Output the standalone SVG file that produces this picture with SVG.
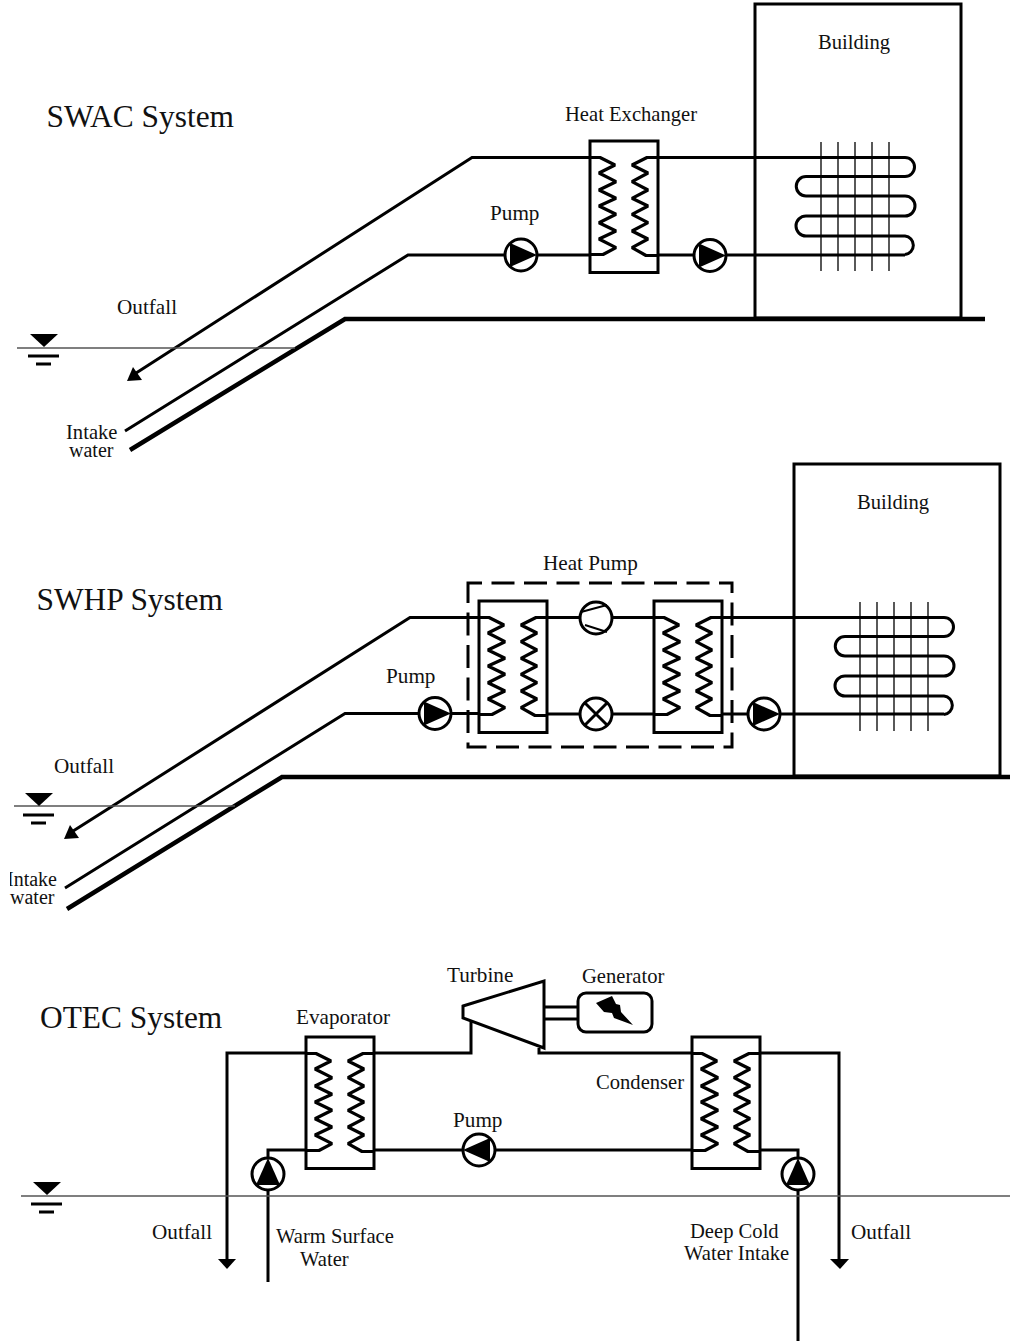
<svg xmlns="http://www.w3.org/2000/svg" width="1010" height="1341" viewBox="0 0 1010 1341">
<style>
text{font-family:"Liberation Serif","Times New Roman",serif;font-size:20.6px;fill:#111}
.t{font-size:31.4px}
.s{font-size:20px}
.b{font-size:21.2px}
.p{fill:none;stroke:#000;stroke-width:3;stroke-linejoin:miter}
.z{fill:none;stroke:#000;stroke-width:3.2;stroke-linejoin:bevel}
.g{fill:none;stroke:#000;stroke-width:4.5}
.w{fill:none;stroke:#555;stroke-width:1.3}
.thin{fill:none;stroke:#000;stroke-width:1.3}
.n{fill:#fff;stroke:#000;stroke-width:3}
.d{fill:#000}
</style>
<defs>
<g id="hx">
<rect class="p" width="68" height="131.5"/>
<path class="z" d="M0 16.5H10L25 24L9 32L26 40.7L9 49L26 57.3L9 65L26 73.3L9 81.7L26 90L9 98L26 106.7L13 113.5H0"/>
<path class="z" d="M68 16.5H57L42 24L58 32L42 40.7L58 49L42 57.3L58 65L42 73.3L58 81.7L42 90L58 98L42 106.7L56 114.5H68"/>
</g>
<g id="pump">
<circle class="n" r="16"/>
<polygon class="d" points="-11,-12 16,0 -11,12"/>
</g>
<g id="coil">
<path class="p" d="M905 157.5A9.5 9.5 0 0 1 905 176.5H806A9.5 9.5 0 0 0 806 196H905A10 10 0 0 1 905 216H806A10 10 0 0 0 806 236H905A9.3 9.3 0 0 1 905 254.5"/>
<path class="thin" d="M821 142V271M838 142V271M855 142V271M872 142V271M889 142V271"/>
</g>
<g id="level">
<polygon class="d" points="30,334 58,334 44,347"/>
<path class="p" d="M28 356H59M36 364H51"/>
</g>
<clipPath id="cut"><rect x="10" y="860" width="60" height="30"/></clipPath>
</defs>

<g id="connectors">
<path class="p" d="M133 375L472 157.5H590M658 157.5H905"/>
<polygon class="d" points="127,381 142,380 133,367"/>
<path class="p" d="M125 431L408 255H590M658 255H905"/>
<path class="g" d="M985 319H345L130 450"/>
<path class="w" d="M17 348H295"/>

<path class="p" d="M70 833L410 617.5H479M547 617.5H654M722 617.5H944"/>
<polygon class="d" points="64,839 79,838 70,825"/>
<path class="p" d="M65 888L345 713.5H479M547 714H654M722 714H944"/>
<path class="g" d="M1010 777H282L67 909"/>
<path class="w" d="M14 806H235"/>
<rect x="468" y="583" width="264" height="164" fill="none" stroke="#000" stroke-width="3" stroke-dasharray="23 9.5" stroke-dashoffset="9"/>

<path class="p" d="M227 1262V1053H306M374 1053H471V1022"/>
<path class="p" d="M539 1048V1053H692M760 1053H839V1262"/>
<polygon class="d" points="218,1259 236,1259 227,1269"/>
<polygon class="d" points="830,1259 849,1259 840,1269"/>
<path class="p" d="M268 1282V1150H306M374 1150H692M760 1150H798V1341"/>
<path class="w" d="M21 1196H1010"/>
<path class="p" d="M544 1007H578M544 1019H578"/>
</g>

<g id="swac-building"><rect class="p" x="755" y="4" width="206" height="314"/><text x="818" y="49">Building</text><use href="#coil"/></g>
<g id="swac-hx"><use href="#hx" x="590" y="141"/><text x="565" y="121">Heat Exchanger</text></g>
<g id="swac-pump1"><use href="#pump" x="521" y="255"/><text class="b" x="490" y="220">Pump</text></g>
<g id="swac-pump2"><use href="#pump" x="710" y="255.5"/></g>
<g id="swac-level"><use href="#level"/></g>
<text class="t" x="46.5" y="127">SWAC System</text>
<text class="b" x="117" y="314">Outfall</text>
<text x="66" y="439">Intake</text>
<text x="69" y="457" class="s">water</text>

<g id="swhp-building"><rect class="p" x="794" y="464" width="206" height="312"/><text x="857" y="509">Building</text><use href="#coil" x="39" y="460"/></g>
<g id="swhp-hx1"><use href="#hx" x="479" y="601"/></g>
<g id="swhp-hx2"><use href="#hx" x="654" y="601"/></g>
<g id="swhp-compressor"><circle class="n" cx="596" cy="618" r="16"/><path class="p" style="stroke-width:2" d="M581 612L607 605M585 625L607 632"/></g>
<g id="swhp-valve"><circle class="n" cx="596" cy="714" r="16"/><path class="p" d="M585 703L607 725M607 703L585 725"/></g>
<g id="swhp-pump1"><use href="#pump" x="435" y="713.5"/><text class="b" x="386" y="683">Pump</text></g>
<g id="swhp-pump2"><use href="#pump" x="764" y="714"/></g>
<g id="swhp-level"><use href="#level" x="-5" y="459"/></g>
<text class="b" x="543" y="570">Heat Pump</text>
<text class="t" x="36.5" y="610">SWHP System</text>
<text class="b" x="54" y="773">Outfall</text>
<text x="7" y="886" class="s" clip-path="url(#cut)">Intake</text>
<text x="10" y="904" class="s">water</text>

<g id="evaporator"><use href="#hx" x="306" y="1037"/><text class="b" x="296" y="1024">Evaporator</text></g>
<g id="condenser"><use href="#hx" x="692" y="1037"/><text x="596" y="1089">Condenser</text></g>
<g id="turbine"><polygon class="n" points="463,1006 544,981 544,1048 463,1018"/><text class="b" x="447" y="982">Turbine</text></g>
<g id="generator"><rect class="n" x="578" y="993" width="74" height="39" rx="8"/><polygon class="d" points="596,1003 612,996 616,1004 620,1005 621,1012 633,1025 614,1018 612,1013 604,1012"/><text x="582" y="983">Generator</text></g>
<g id="otec-pump-mid"><use href="#pump" transform="translate(479 1150) rotate(180)"/><text class="b" x="453" y="1127">Pump</text></g>
<g id="otec-pump-warm"><use href="#pump" transform="translate(268 1174) rotate(-90)"/></g>
<g id="otec-pump-cold"><use href="#pump" transform="translate(798 1174) rotate(-90)"/></g>
<g id="otec-level"><use href="#level" x="3" y="848"/></g>
<text class="t" x="40" y="1028">OTEC System</text>
<text class="b" x="152" y="1239">Outfall</text>
<text x="276" y="1243">Warm Surface</text>
<text x="300" y="1266">Water</text>
<text x="690" y="1238">Deep Cold</text>
<text x="684" y="1260">Water Intake</text>
<text class="b" x="851" y="1239">Outfall</text>
</svg>
